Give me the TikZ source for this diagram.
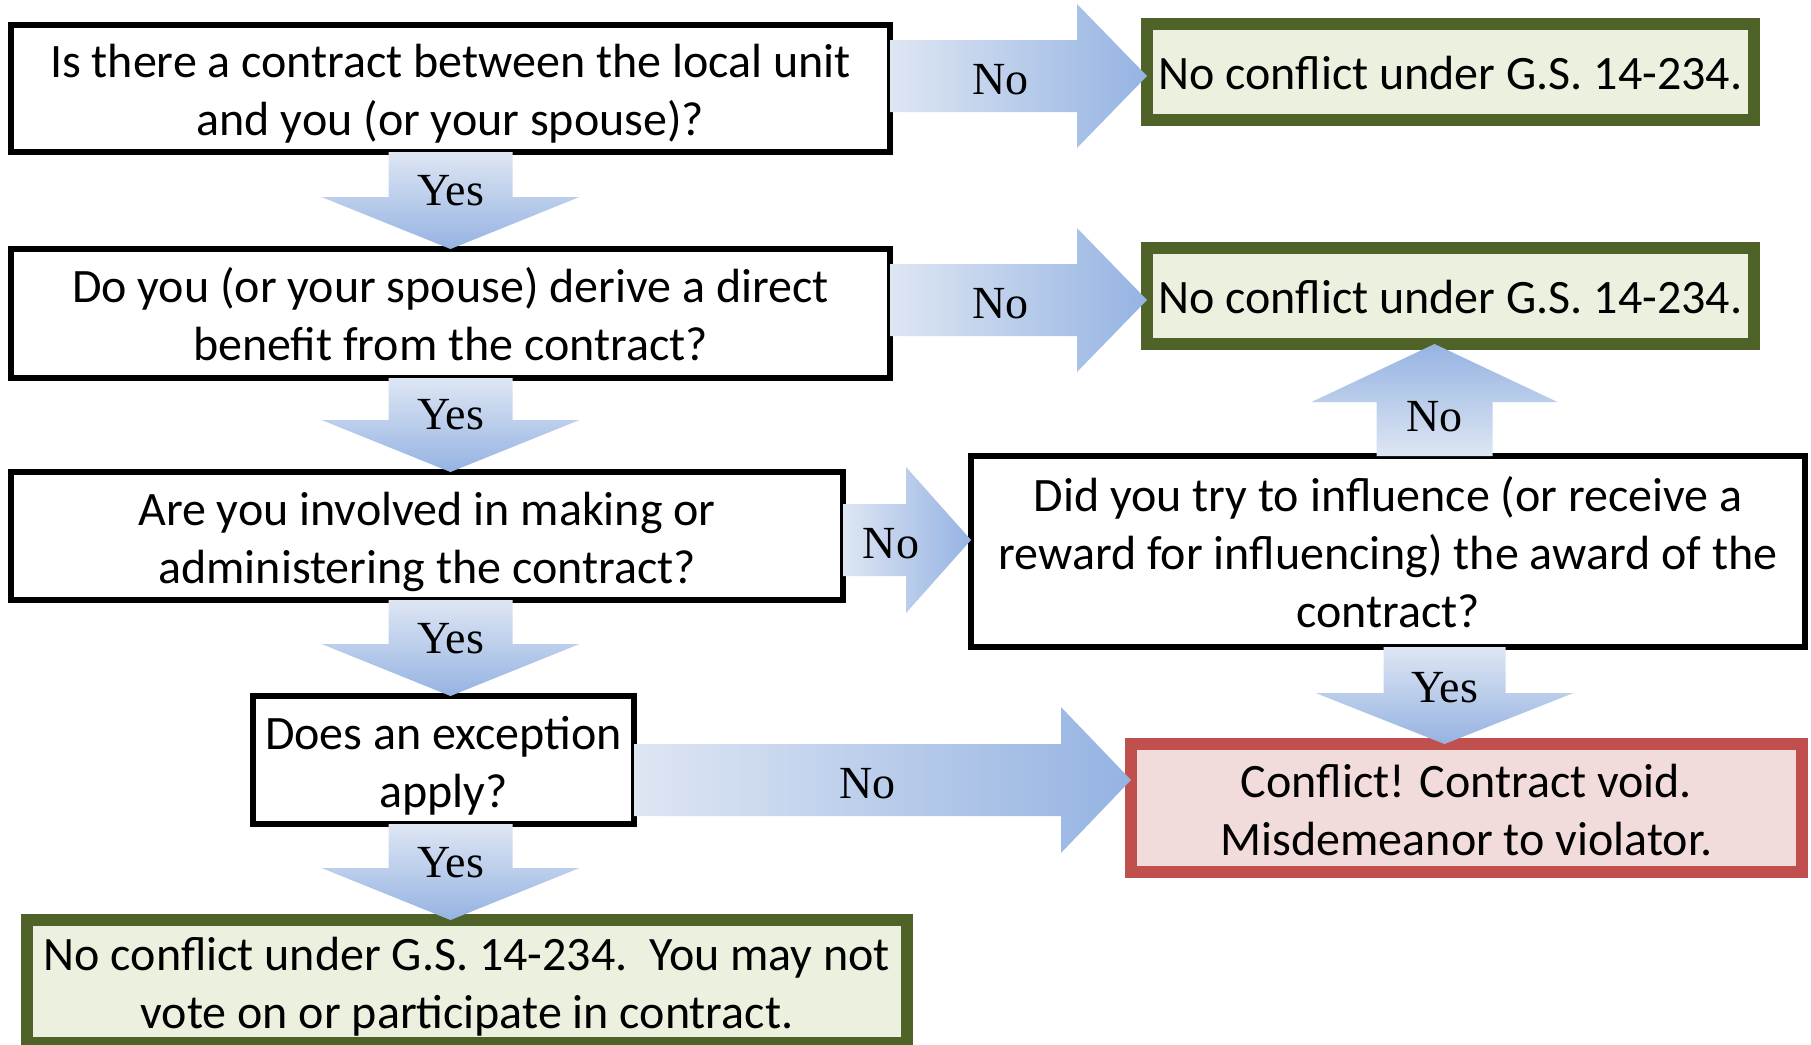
\documentclass[tikz,border=0pt]{standalone}
\usepackage{fontspec}
\setmainfont{Carlito}
\newfontfamily\answerfont{Liberation Serif}
\usetikzlibrary{calc}

\definecolor{okline}{RGB}{79,98,40}
\definecolor{okfill}{RGB}{235,241,222}
\definecolor{badline}{RGB}{192,80,77}
\definecolor{badfill}{RGB}{242,220,219}
\definecolor{arrowlight}{RGB}{222,230,243}
\definecolor{arrowdark}{RGB}{149,179,226}

\begin{document}
\begin{tikzpicture}[x=1pt, y=-1pt,
every node/.style = {align=center, inner sep=0pt, outer sep=0pt,
	font=\fontsize{48}{58}\selectfont},
oneline/.style = {text height=46.5pt, text depth=11.5pt},
twolines/.style = {text height=106pt, text depth=11.5pt},
threelines/.style = {text height=164pt, text depth=11.5pt},
question/.style = {draw, line width=6pt, fill=white},
noconflict/.style = {draw=okline, line width=12pt, fill=okfill},
conflict/.style = {draw=badline, line width=12pt, fill=badfill},
answer/.style = {font=\answerfont\fontsize{46}{46}\selectfont,
	text height=37pt, text depth=0pt},
goright/.style args = {#1/#2/#3}{left color=arrowlight, right color=arrowdark,
	to path={([yshift=#1]\tikztostart) -- ([xshift=-#3,yshift=#1]\tikztotarget)
	-- ([xshift=-#3,yshift=#2]\tikztotarget) -- (\tikztotarget)
	-- ([xshift=-#3,yshift=-#2]\tikztotarget) -- ([xshift=-#3,yshift=-#1]\tikztotarget)
	-- ([yshift=-#1]\tikztostart) -- cycle}},
godown/.style args = {#1/#2/#3}{top color=arrowlight, bottom color=arrowdark,
	to path={([xshift=-#1]\tikztostart) -- ([yshift=#3,xshift=-#1]\tikztotarget)
	-- ([yshift=#3,xshift=-#2]\tikztotarget) -- (\tikztotarget)
	-- ([yshift=#3,xshift=#2]\tikztotarget) -- ([yshift=#3,xshift=#1]\tikztotarget)
	-- ([xshift=#1]\tikztostart) -- cycle}},
goup/.style args = {#1/#2/#3}{top color=arrowdark, bottom color=arrowlight,
	to path={([xshift=-#1]\tikztostart) -- ([yshift=-#3,xshift=-#1]\tikztotarget)
	-- ([yshift=-#3,xshift=-#2]\tikztotarget) -- (\tikztotarget)
	-- ([yshift=-#3,xshift=#2]\tikztotarget) -- ([yshift=-#3,xshift=#1]\tikztotarget)
	-- ([xshift=#1]\tikztostart) -- cycle}}]
\useasboundingbox (0,0) rectangle (1811,1044);

% questions
\node[question, twolines, minimum width=879, minimum height=127] (q1) at (450.5,88.5)
	{Is there a contract between the local unit\\and you (or your spouse)?};
\node[question, twolines, minimum width=879, minimum height=129] (q2) at (450.5,313.5)
	{Do you (or your spouse) derive a direct\\benefit from the contract?};
\node[question, twolines, minimum width=832, minimum height=128] (q3) at (427,536)
	{Are you involved in making or\\administering the contract?};
\node[question, twolines, minimum width=381, minimum height=128] (q4) at (443.5,760)
	{Does an exception\\apply?};
\node[question, threelines, minimum width=834, minimum height=191] (q5) at (1388,551.5)
	{Did you try to influence (or receive a\\reward for influencing) the award of the\\contract?};

% outcomes
\node[noconflict, oneline, minimum width=607, minimum height=96] (g1) at (1450.5,72)
	{No conflict under G.S. 14-234.};
\node[noconflict, oneline, minimum width=607, minimum height=96] (g2) at (1450.5,296)
	{No conflict under G.S. 14-234.};
\node[noconflict, twolines, minimum width=880, minimum height=123] (g3) at (467,981.5)
	{No conflict under G.S. 14-234.\ \ You may not\\vote on or participate in contract.};
\node[conflict, twolines, minimum width=671, minimum height=128] (r) at (1466.5,808)
	{Conflict! Contract void.\\Misdemeanor to violator.};

% block arrows
\path[goright=36pt/72pt/70pt] ([yshift=-4pt]g1.west -| q1.east) to ([yshift=-4pt]g1.west);
\path[goright=36pt/72pt/70pt] ([yshift=-4pt]g2.west -| q2.east) to ([yshift=-4pt]g2.west);
\path[goright=36pt/73pt/65pt] ([yshift=-4pt]q3.east) to ([yshift=-4pt]q3.east -| q5.west);
\path[goright=36pt/73pt/70pt] ([yshift=-20pt]q4.east) to ([yshift=-20pt]q4.east -| r.west);
\path[godown=62pt/129pt/52pt] (q1.south) to (q2.north);
\path[godown=62pt/129pt/52pt] (q2.south) to (q2.south |- q3.north);
\path[godown=62pt/129pt/52pt] (q3.south -| q2.south) to (q4.north -| q2.south);
\path[godown=62pt/129pt/52pt] (q4.south -| q2.south) to (g3.north -| q2.south);
\path[godown=61pt/129pt/51pt] ([xshift=-22pt]r.north |- q5.south) to ([xshift=-22pt]r.north);
\path[goup=58pt/123pt/58pt] ([xshift=-16pt]g2.south |- q5.north) to ([xshift=-16pt]g2.south);

% answers
\node[answer] (n1) at ([yshift=-4pt]$(q1.east |- g1.west)!.43!(g1.west)$) {No};
\node[answer] (n2) at ($(q1.south)!.36!(q2.north)$) {Yes};
\node[answer] (n3) at ([yshift=-4pt]$(q2.east |- g2.west)!.43!(g2.west)$) {No};
\node[answer] (n4) at ($(q2.south)!.35!(q2.south |- q3.north)$) {Yes};
\node[answer] (n5) at ([yshift=-4pt]$(q3.east)!.375!(q3.east -| q5.west)$) {No};
\node[answer] (n6) at ([xshift=-16pt]$(g2.south |- q5.north)!.38!(g2.south)$) {No};
\node[answer] (n7) at ($(q3.south -| q2.south)!.36!(q4.north -| q2.south)$) {Yes};
\node[answer] (n8) at ([xshift=-22pt]$(r.north |- q5.south)!.38!(r.north)$) {Yes};
\node[answer] (n9) at ([yshift=-20pt]$(q4.east)!.47!(q4.east -| r.west)$) {No};
\node[answer] (n10) at ($(q4.south -| q2.south)!.36!(g3.north -| q2.south)$) {Yes};
\end{tikzpicture}
\end{document}
